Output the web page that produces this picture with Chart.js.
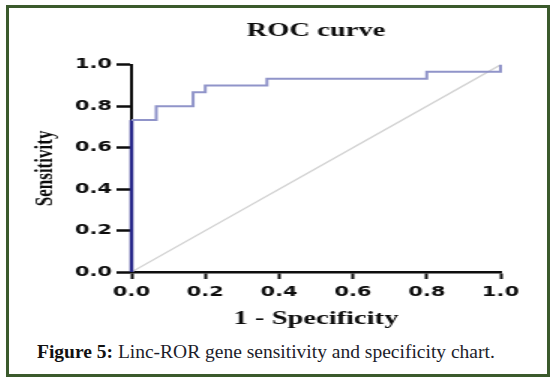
<!DOCTYPE html>
<html>
<head>
<meta charset="utf-8">
<script src="https://cdn.jsdelivr.net/npm/chart.js@4.4.1/dist/chart.umd.min.js"></script>
<style>
  html, body { margin: 0; padding: 0; background: #fff; }
  body { width: 556px; height: 384px; position: relative; overflow: hidden; }
  /* marco verde de la figura */
  #marco {
    position: absolute; left: 6px; top: 5px; width: 544px; height: 372px;
    box-sizing: border-box; border: 3px solid #3b5a2c;
  }
  /* el grafico original esta estirado en horizontal, se imita con scaleX */
  #contenedor {
    position: absolute; left: 10px; top: 0; width: 360px; height: 340px;
    transform: scaleX(1.5); transform-origin: 0 0;
  }
  #leyenda {
    position: absolute; left: 37px; top: 342px; white-space: nowrap;
    font-family: 'Liberation Serif', serif; font-size: 19.5px; line-height: 20px;
    color: #1d1d2b;
  }
  #leyenda b { color: #111; }
</style>
</head>
<body>
<div id="marco"></div>
<div id="contenedor"><canvas id="grafico"></canvas></div>
<div id="leyenda"><b>Figure 5:</b> Linc-ROR gene sensitivity and specificity chart.</div>

<script>
// Datos (curva ROC escalonada)
const fpr = [0, 0, 0.067, 0.067, 0.167, 0.167, 0.2, 0.2, 0.367, 0.367, 0.8, 0.8, 1.0, 1.0];
const tpr = [0, 0.733, 0.733, 0.8, 0.8, 0.867, 0.867, 0.9, 0.9, 0.933, 0.933, 0.967, 0.967, 1.0];

// Linea de referencia (azar)
const refX = [0, 1];
const refY = [0, 1];

// Marcas de los ejes
const tickValues = [0, 0.2, 0.4, 0.6, 0.8, 1.0];

const chartTitle = 'ROC curve';
const xTitle = '1 - Specificity';
const yTitle = 'Sensitivity';

const rocColor = '#9094c9';
const rocAxisColor = '#28288a';
const refColor = '#d2d2d2';
const inkColor = '#0d0d0d';

const tickFont = { family: 'DejaVu Sans', size: 14, weight: 'bold' };
const serifBold = size => ({ family: 'Liberation Serif', size: size, weight: 'bold' });

function toPoints(xs, ys) {
  return xs.map((x, i) => ({ x: x, y: ys[i] }));
}

function fixedTicks(scale) {
  scale.ticks = tickValues.map(v => ({ value: v }));
}

const ctx = document.getElementById('grafico');

new Chart(ctx, {
  type: 'line',
  data: {
    datasets: [
      {
        label: 'ROC',
        data: toPoints(fpr, tpr),
        borderColor: rocColor,
        borderWidth: 2,
        pointRadius: 0,
        clip: false,
        // el tramo sobre el eje y se ve azul oscuro
        segment: {
          borderColor: c => (c.p0.parsed.x === 0 && c.p1.parsed.x === 0) ? rocAxisColor : undefined,
          borderWidth: c => (c.p0.parsed.x === 0 && c.p1.parsed.x === 0) ? 2.5 : undefined
        }
      },
      {
        label: 'Reference',
        data: toPoints(refX, refY),
        borderColor: refColor,
        borderWidth: 1.3,
        pointRadius: 0
      }
    ]
  },
  options: {
    responsive: true,
    maintainAspectRatio: false,
    animation: false,
    layout: { padding: { left: 0, right: 33, top: 0, bottom: 0 } },
    plugins: {
      legend: { display: false },
      tooltip: { enabled: false },
      title: {
        display: true,
        text: chartTitle,
        fullSize: false,
        color: inkColor,
        font: serifBold(19),
        padding: { top: 20, bottom: 22 }
      }
    },
    scales: {
      x: {
        type: 'linear',
        min: 0,
        max: 1,
        afterBuildTicks: fixedTicks,
        afterFit: s => { s.height = 68; },
        ticks: {
          color: inkColor,
          font: tickFont,
          padding: 5,
          maxRotation: 0,
          callback: v => Number(v).toFixed(1)
        },
        grid: {
          display: true,
          drawOnChartArea: false,
          drawTicks: true,
          tickLength: 7,
          tickWidth: 2,
          tickColor: inkColor
        },
        border: { display: true, color: inkColor, width: 2.5 },
        title: {
          display: true,
          text: xTitle,
          color: inkColor,
          font: serifBold(19),
          padding: { top: 0, bottom: 9.6 }
        }
      },
      y: {
        type: 'linear',
        min: 0,
        max: 1,
        afterBuildTicks: fixedTicks,
        afterFit: s => { s.width = 81; },
        ticks: {
          color: inkColor,
          font: tickFont,
          padding: 3,
          callback: v => Number(v).toFixed(1)
        },
        grid: {
          display: true,
          drawOnChartArea: false,
          drawTicks: true,
          tickLength: 10,
          tickWidth: 2.5,
          tickColor: inkColor
        },
        border: { display: true, color: inkColor, width: 2 },
        title: {
          display: true,
          text: yTitle,
          color: inkColor,
          font: serifBold(17),
          padding: { top: 13, bottom: 0 }
        }
      }
    }
  }
});
</script>
</body>
</html>
